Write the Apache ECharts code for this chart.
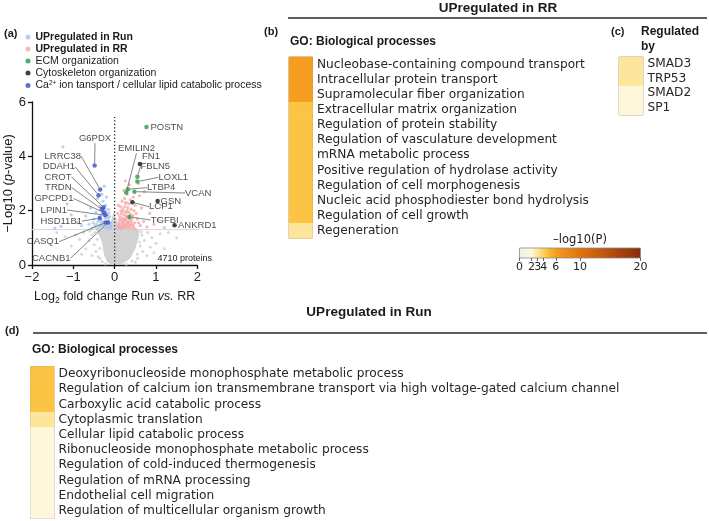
<!DOCTYPE html>
<html>
<head>
<meta charset="utf-8">
<script src="https://cdn.jsdelivr.net/npm/echarts@6/dist/echarts.min.js"></script>
<style>
  html, body { margin: 0; padding: 0; background: #fff; }
  #chart { width: 709px; height: 521px; }
</style>
</head>
<body>
<div id="chart"></div>
<script>
// ---- volcano data (log2 FC, -log10 p) ----
const grayCloud = [
  [-0.05, 0.0], [-0.18, 0.1], [-0.26, 0.4], [-0.3, 0.8], [-0.38, 1.1], [-0.45, 1.3],
  [-0.2, 1.36], [-0.1, 1.55], [-0.02, 2.0], [0.06, 1.6], [0.15, 1.36], [0.6, 1.3],
  [0.58, 1.0], [0.5, 0.6], [0.38, 0.25], [0.2, 0.05]
];
const grayPoints = [
  [-0.55, 1.1], [-0.62, 0.9], [-0.5, 0.75], [-0.7, 0.6], [-0.45, 0.5], [-0.85, 0.95],
  [-0.95, 1.1], [-0.4, 0.3], [-0.55, 0.35], [-0.3, 0.12], [-1.05, 0.7], [-0.75, 1.2],
  [-0.6, 1.25], [-1.2, 1.05], [0.66, 1.1], [0.72, 0.9], [0.62, 0.7], [0.8, 1.2],
  [0.9, 1.0], [0.55, 0.4], [0.68, 0.5], [0.42, 0.15], [1.0, 0.8], [1.1, 1.15],
  [0.78, 0.35], [0.5, 0.1], [-0.22, 0.04], [0.28, 0.03], [1.3, 1.2], [0.86, 0.65],
  [-0.36, 0.62], [-1.4, 1.2], [1.5, 1.0], [-0.8, 0.4], [0.95, 0.45], [1.2, 0.6],
  [-0.48, 1.2], [-0.42, 0.95], [0.64, 1.22], [0.6, 0.85], [0.55, 0.25], [-0.35, 0.25]
];
const runPoints = [
  [-0.08, 1.35], [-0.12, 1.42], [-0.16, 1.33], [-0.2, 1.4], [-0.25, 1.36], [-0.3, 1.45],
  [-0.35, 1.38], [-0.42, 1.34], [-0.48, 1.42], [-0.55, 1.36], [-0.1, 1.55], [-0.15, 1.62],
  [-0.19, 1.5], [-0.28, 1.58], [-0.33, 1.52], [-0.4, 1.6], [-0.12, 1.78], [-0.18, 1.85],
  [-0.23, 1.72], [-0.3, 1.9], [-0.38, 1.75], [-0.45, 1.95], [-0.15, 2.05], [-0.22, 2.2],
  [-0.28, 2.35], [-0.35, 2.15], [-0.2, 2.5], [-0.42, 2.45], [-0.62, 1.5], [-0.7, 1.8],
  [-0.8, 1.45], [-0.9, 1.55], [-1.05, 1.85], [-1.15, 2.25], [-1.3, 1.42], [-1.45, 1.35],
  [-1.25, 4.35], [-0.25, 2.9], [-0.58, 2.1],
  [-0.1, 1.45], [-0.14, 1.5], [-0.18, 1.38], [-0.22, 1.55], [-0.27, 1.48], [-0.32, 1.62],
  [-0.37, 1.45], [-0.44, 1.5], [-0.16, 1.72], [-0.21, 1.95], [-0.26, 1.82], [-0.34, 1.82],
  [-0.5, 1.7], [-0.14, 1.92], [-0.24, 2.05], [-0.31, 2.6], [-0.52, 1.55]
];
const rrPoints = [
  [0.08, 1.35], [0.12, 1.4], [0.15, 1.33], [0.18, 1.45], [0.22, 1.38], [0.26, 1.5],
  [0.3, 1.42], [0.34, 1.36], [0.38, 1.48], [0.42, 1.34], [0.46, 1.4], [0.5, 1.32],
  [0.1, 1.55], [0.14, 1.62], [0.2, 1.58], [0.24, 1.7], [0.28, 1.64], [0.32, 1.56],
  [0.4, 1.6], [0.48, 1.55], [0.12, 1.8], [0.17, 1.74], [0.22, 1.85], [0.27, 1.92],
  [0.31, 1.8], [0.36, 1.7], [0.44, 1.82], [0.55, 1.7], [0.15, 2.0], [0.2, 2.08],
  [0.25, 2.15], [0.3, 2.0], [0.34, 2.25], [0.4, 2.05], [0.18, 2.35], [0.24, 2.45],
  [0.28, 2.3], [0.38, 2.4], [0.45, 2.5], [0.3, 2.6], [0.22, 2.75], [0.36, 2.95],
  [0.5, 2.2], [0.6, 2.55], [0.65, 2.1], [0.7, 1.6], [0.62, 1.45], [0.78, 1.4],
  [0.85, 1.9], [0.95, 1.5], [1.05, 1.65], [1.2, 1.38], [0.58, 3.0], [0.26, 3.1],
  [0.72, 2.7], [0.09, 2.2], [0.07, 1.9], [1.13, 2.2],
  [0.1, 1.45], [0.13, 1.5], [0.16, 1.38], [0.19, 1.55], [0.21, 1.48], [0.23, 1.62],
  [0.25, 1.42], [0.27, 1.36], [0.29, 1.55], [0.33, 1.48], [0.35, 1.6], [0.37, 1.4],
  [0.41, 1.5], [0.44, 1.45], [0.11, 1.68], [0.16, 1.9], [0.19, 1.68], [0.26, 1.8],
  [0.29, 1.72], [0.33, 1.95], [0.38, 1.88], [0.42, 1.7], [0.14, 2.15], [0.21, 1.98],
  [0.26, 2.28], [0.32, 2.1], [0.35, 1.78], [0.52, 1.9], [0.58, 1.55], [0.47, 2.0]
];
const ecmGenes = [
  ['POSTN', 0.77, 5.08], ['EMILIN2', 0.28, 2.67], ['FBLN5', 0.55, 3.25], ['LOXL1', 0.55, 3.07],
  ['LTBP4', 0.32, 2.79], ['VCAN', 0.48, 2.7], ['TGFBI', 0.36, 1.77]
];
const cytoGenes = [
  ['FN1', 0.61, 3.72], ['GSN', 1.04, 2.36], ['LCP1', 0.43, 2.31], ['ANKRD1', 1.45, 1.46]
];
const caGenes = [
  ['G6PDX', -0.485, 3.66], ['LRRC38', -0.35, 2.78], ['DDAH1', -0.39, 2.57], ['CROT', -0.27, 2.13],
  ['TRDN', -0.31, 2.05], ['GPCPD1', -0.26, 1.93], ['LPIN1', -0.22, 1.83], ['HSD11B1', -0.36, 1.72],
  ['CASQ1', -0.22, 1.56], ['CACNB1', -0.16, 1.56]
];
const pThreshold = 1.301;
const proteinCount = 4710;

// ---- enrichment data (-log10 P) ----
const rrTerms = [
  'Nucleobase-containing compound transport', 'Intracellular protein transport',
  'Supramolecular fiber organization', 'Extracellular matrix organization',
  'Regulation of protein stability', 'Regulation of vasculature development',
  'mRNA metabolic process', 'Positive regulation of hydrolase activity',
  'Regulation of cell morphogenesis', 'Nucleic acid phosphodiester bond hydrolysis',
  'Regulation of cell growth', 'Regeneration'
];
const rrLogP = [6, 6, 6, 4.5, 4.5, 4.5, 4.5, 4.5, 4.5, 4.5, 4.5, 3];
const regulators = ['SMAD3', 'TRP53', 'SMAD2', 'SP1'];
const regulatorLogP = [3, 3, 2, 2];
const runTerms = [
  'Deoxyribonucleoside monophosphate metabolic process',
  'Regulation of calcium ion transmembrane transport via high voltage-gated calcium channel',
  'Carboxylic acid catabolic process', 'Cytoplasmic translation',
  'Cellular lipid catabolic process', 'Ribonucleoside monophosphate metabolic process',
  'Regulation of cold-induced thermogenesis', 'Regulation of mRNA processing',
  'Endothelial cell migration', 'Regulation of multicellular organism growth'
];
const runLogP = [4.5, 4.5, 4.5, 3, 2, 2, 2, 2, 2, 2];
const colorbarTicks = [0, 2, 3, 4, 6, 10, 20];

// ---- styles ----
const SANS = '"Liberation Sans", Arial, sans-serif';
const DEJA = '"DejaVu Sans", sans-serif';
const cmap = [[0, '#f3f1e7'], [2, '#fef7da'], [3, '#fde59b'], [4.5, '#fcc444'],
              [6, '#f59e1f'], [10, '#e0730f'], [20, '#8a2a0c']];

// label text spots in pixels: [x, y, align, leader line]
const labelSpots = {
  POSTN: [150.5, 127.3, 'left', false], EMILIN2: [118, 148.3, 'left', true],
  FN1: [142, 156.7, 'left', false], FBLN5: [140.5, 166.5, 'left', true],
  LOXL1: [158.5, 177.3, 'left', true], LTBP4: [147, 187.7, 'left', true],
  VCAN: [185, 193, 'left', true], GSN: [160.5, 201.3, 'left', false],
  LCP1: [149, 206.7, 'left', true], TGFBI: [150.7, 220, 'left', true],
  ANKRD1: [178, 225.7, 'left', false],
  G6PDX: [95, 138.3, 'center', true], LRRC38: [81, 156, 'right', true],
  DDAH1: [75, 166.7, 'right', true], CROT: [71.5, 177, 'right', true],
  TRDN: [71.5, 187.5, 'right', true], GPCPD1: [73.5, 198.5, 'right', true],
  LPIN1: [67, 210, 'right', true], HSD11B1: [82, 221, 'right', true],
  CASQ1: [59, 241.7, 'right', true], CACNB1: [70.5, 258.3, 'right', true]
};

function hexToRgb(h) {
  return [1, 3, 5].map(i => parseInt(h.slice(i, i + 2), 16));
}
function cmapAt(v) {
  for (let i = 1; i < cmap.length; i++) {
    if (v <= cmap[i][0]) {
      const [v0, c0] = cmap[i - 1], [v1, c1] = cmap[i];
      const t = (v - v0) / (v1 - v0);
      const a = hexToRgb(c0), b = hexToRgb(c1);
      return 'rgb(' + a.map((x, k) => Math.round(x + (b[k] - x) * t)).join(',') + ')';
    }
  }
  return cmap[cmap.length - 1][1];
}
const cmapSamples = [];
for (let v = 0; v <= 20; v += 0.25) cmapSamples.push(cmapAt(v));

const runName = 'UPregulated in Run';
const rrName = 'UPregulated in RR';
const ecmName = 'ECM organization';
const cytoName = 'Cytoskeleton organization';
const caName = 'Ca2+ ion tansport / cellular lipid catabolic process';

function geneSeries(name, genes, color) {
  return {
    name, type: 'scatter', symbolSize: 4.5, z: 5,
    xAxisIndex: 0, yAxisIndex: 0,
    itemStyle: { color },
    emphasis: { disabled: true },
    data: genes.map(g => ({
      name: g[0], value: [g[1], g[2]],
      labelLine: { show: labelSpots[g[0]][3] }
    })),
    label: { show: true, formatter: '{b}', fontSize: 9.5, fontFamily: SANS, color: '#1a1a1a' },
    labelLine: { show: true, lineStyle: { color: '#666', width: 0.8 } },
    labelLayout: p => {
      const s = labelSpots[p.text];
      return { x: s[0], y: s[1], align: s[2], verticalAlign: 'middle' };
    }
  };
}

function heatAxisY(idx, terms, fontSize) {
  return {
    type: 'category', gridIndex: idx, data: terms, inverse: true, position: 'right',
    axisLine: { show: false }, axisTick: { show: false },
    axisLabel: { interval: 0, margin: 4.5, fontSize, fontFamily: DEJA, color: '#262626' }
  };
}
function heatAxisX(idx) {
  return { type: 'category', gridIndex: idx, data: ['P'], show: false };
}
function heatSeries(idx, values) {
  return {
    type: 'heatmap', xAxisIndex: idx, yAxisIndex: idx,
    data: values.map((v, i) => [0, i, v]),
    emphasis: { disabled: true }, silent: true
  };
}

const chart = echarts.init(document.getElementById('chart'), null, { renderer: 'canvas' });

const gradient = new echarts.graphic.LinearGradient(0, 0, 1, 0,
  cmapSamples.map((c, i) => ({ offset: i / (cmapSamples.length - 1), color: c })));

function txt(x, y, text, font, align, fill) {
  return {
    type: 'text', x, y, silent: true,
    style: { text, font, fill: fill || '#1a1a1a', align: align || 'left', verticalAlign: 'middle',
             textAlign: align || 'left', textVerticalAlign: 'middle' }
  };
}
function rule(x1, x2, y) {
  return { type: 'line', silent: true, shape: { x1, y1: y, x2, y2: y },
           style: { stroke: '#2a2a2a', lineWidth: 1.5 } };
}

chart.setOption({
  animation: false,
  grid: [
    { left: 32, top: 102, width: 165.3, height: 163 },
    { left: 289, top: 57, width: 23.5, height: 181.5, show: true, borderColor: '#a59f90', borderWidth: 1 },
    { left: 619, top: 57, width: 24, height: 58, show: true, borderColor: '#a59f90', borderWidth: 1 },
    { left: 30.5, top: 366.5, width: 23.5, height: 152, show: true, borderColor: '#a59f90', borderWidth: 1 },
    { left: 519.5, top: 248, width: 121, height: 10, show: true, backgroundColor: gradient,
      borderColor: '#8a8a8a', borderWidth: 0.8 }
  ],
  xAxis: [
    {
      type: 'value', gridIndex: 0, min: -2, max: 2, interval: 1,
      name: '{a|Log}{s|2}{a| fold change Run }{i|vs.}{a| RR}',
      nameLocation: 'middle', nameGap: 24,
      nameTextStyle: { rich: {
        a: { fontSize: 12.5, fontFamily: SANS, color: '#1a1a1a' },
        i: { fontSize: 12.5, fontFamily: SANS, fontStyle: 'italic', color: '#1a1a1a' },
        s: { fontSize: 8.5, fontFamily: SANS, color: '#1a1a1a', padding: [7, 0, 0, 0] }
      } },
      axisLine: { onZero: false, lineStyle: { color: '#111', width: 1.3 } },
      axisTick: { length: 4, lineStyle: { color: '#111', width: 1.3 } },
      axisLabel: { fontSize: 13, fontFamily: SANS, color: '#1a1a1a', margin: 6,
                   formatter: v => String(v).replace('-', '\u2212') },
      splitLine: { show: false }
    },
    heatAxisX(1), heatAxisX(2), heatAxisX(3),
    {
      type: 'value', gridIndex: 4, min: 0, max: 20,
      axisLine: { show: false },
      axisTick: { customValues: colorbarTicks, length: 3, lineStyle: { color: '#444', width: 0.8 } },
      axisLabel: { customValues: colorbarTicks, fontSize: 11, fontFamily: DEJA, color: '#222', margin: 4 },
      splitLine: { show: false }
    }
  ],
  yAxis: [
    {
      type: 'value', gridIndex: 0, min: 0, max: 6, interval: 2,
      name: '{a|\u2212Log10 (}{i|p}{a|-value)}',
      nameLocation: 'middle', nameGap: 10,
      nameTextStyle: { rich: {
        a: { fontSize: 13, fontFamily: SANS, color: '#1a1a1a' },
        i: { fontSize: 13, fontFamily: SANS, fontStyle: 'italic', color: '#1a1a1a' }
      } },
      axisLine: { show: true, onZero: false, lineStyle: { color: '#111', width: 1.3 } },
      axisTick: { show: true, length: 4, lineStyle: { color: '#111', width: 1.3 } },
      axisLabel: { fontSize: 13, fontFamily: SANS, color: '#1a1a1a', margin: 6 },
      splitLine: { show: false }
    },
    heatAxisY(1, rrTerms, 12.2), heatAxisY(2, regulators, 12.2), heatAxisY(3, runTerms, 12.2),
    { type: 'value', gridIndex: 4, min: 0, max: 1, show: false }
  ],
  visualMap: {
    type: 'continuous', show: false, min: 0, max: 20, dimension: 2,
    seriesIndex: [9, 10, 11], inRange: { color: cmapSamples }
  },
  legend: {
    orient: 'vertical', left: 25.5, top: 31.5, padding: 0, itemGap: 1,
    itemWidth: 5, itemHeight: 5, icon: 'circle', selectedMode: false,
    data: [
      { name: runName, textStyle: { fontWeight: 'bold' } },
      { name: rrName, textStyle: { fontWeight: 'bold' } },
      { name: ecmName }, { name: cytoName }, { name: caName }
    ],
    formatter: n => n === caName
      ? '{n|Ca}{sup|2+}{n| ion tansport / cellular lipid catabolic process}' : n,
    textStyle: {
      fontSize: 10.5, fontFamily: SANS, color: '#1a1a1a', lineHeight: 11,
      rich: {
        n: { fontSize: 10.5, fontFamily: SANS, color: '#1a1a1a' },
        sup: { fontSize: 6.5, fontFamily: SANS, color: '#1a1a1a', padding: [0, 0, 5, 0] }
      }
    }
  },
  series: [
    {
      type: 'custom', name: 'cloud', xAxisIndex: 0, yAxisIndex: 0, silent: true, z: 1,
      data: grayCloud,
      renderItem: (params, api) => {
        if (params.dataIndex !== 0) return null;
        return { type: 'polygon', shape: { points: grayCloud.map(p => api.coord(p)) },
                 style: { fill: '#d2d2d2' } };
      }
    },
    { type: 'scatter', name: 'other', data: grayPoints, symbolSize: 3, z: 2, silent: true,
      itemStyle: { color: '#cfcfcf' } },
    { type: 'scatter', name: runName, data: runPoints, symbolSize: 3.2, z: 3, silent: true,
      itemStyle: { color: '#a7c4ea' } },
    { type: 'scatter', name: rrName, data: rrPoints, symbolSize: 3.2, z: 3, silent: true,
      itemStyle: { color: '#f6a8a8' } },
    geneSeries(ecmName, ecmGenes, '#239a45'),
    geneSeries(cytoName, cytoGenes, '#111111'),
    geneSeries(caName, caGenes, '#3b4fc2'),
    { type: 'line', name: 'threshold', data: [[-2, pThreshold], [2.45, pThreshold]], clip: false,
      symbol: 'none', silent: true, z: 1, lineStyle: { color: '#d8d8d8', width: 1 } },
    { type: 'line', name: 'zero', data: [[0, 0], [0, 5.45]], symbol: 'none', silent: true, z: 6,
      lineStyle: { color: '#222', width: 1.3, type: [1.3, 2.2] } },
    heatSeries(1, rrLogP), heatSeries(2, regulatorLogP), heatSeries(3, runLogP),
    { type: 'scatter', xAxisIndex: 4, yAxisIndex: 4, data: [] }
  ],
  graphic: [
    txt(4, 34, '(a)', 'bold 11px ' + SANS),
    txt(264, 32, '(b)', 'bold 11px ' + SANS),
    txt(611, 32, '(c)', 'bold 11px ' + SANS),
    txt(5, 331, '(d)', 'bold 11px ' + SANS),
    txt(498, 8, rrName, 'bold 13.5px ' + SANS, 'center'),
    rule(288, 707, 18),
    txt(369, 312, runName, 'bold 13.5px ' + SANS, 'center'),
    rule(33, 707, 333),
    txt(290, 42, 'GO: Biological processes', 'bold 12px ' + SANS),
    txt(32, 350, 'GO: Biological processes', 'bold 12px ' + SANS),
    txt(641, 32, 'Regulated', 'bold 12px ' + SANS),
    txt(641, 47, 'by', 'bold 12px ' + SANS),
    txt(580, 240, '\u2013log10(P)', '11.5px ' + DEJA, 'center'),
    txt(212, 259, proteinCount + ' proteins', '9px ' + SANS, 'right')
  ]
});
</script>
</body>
</html>
